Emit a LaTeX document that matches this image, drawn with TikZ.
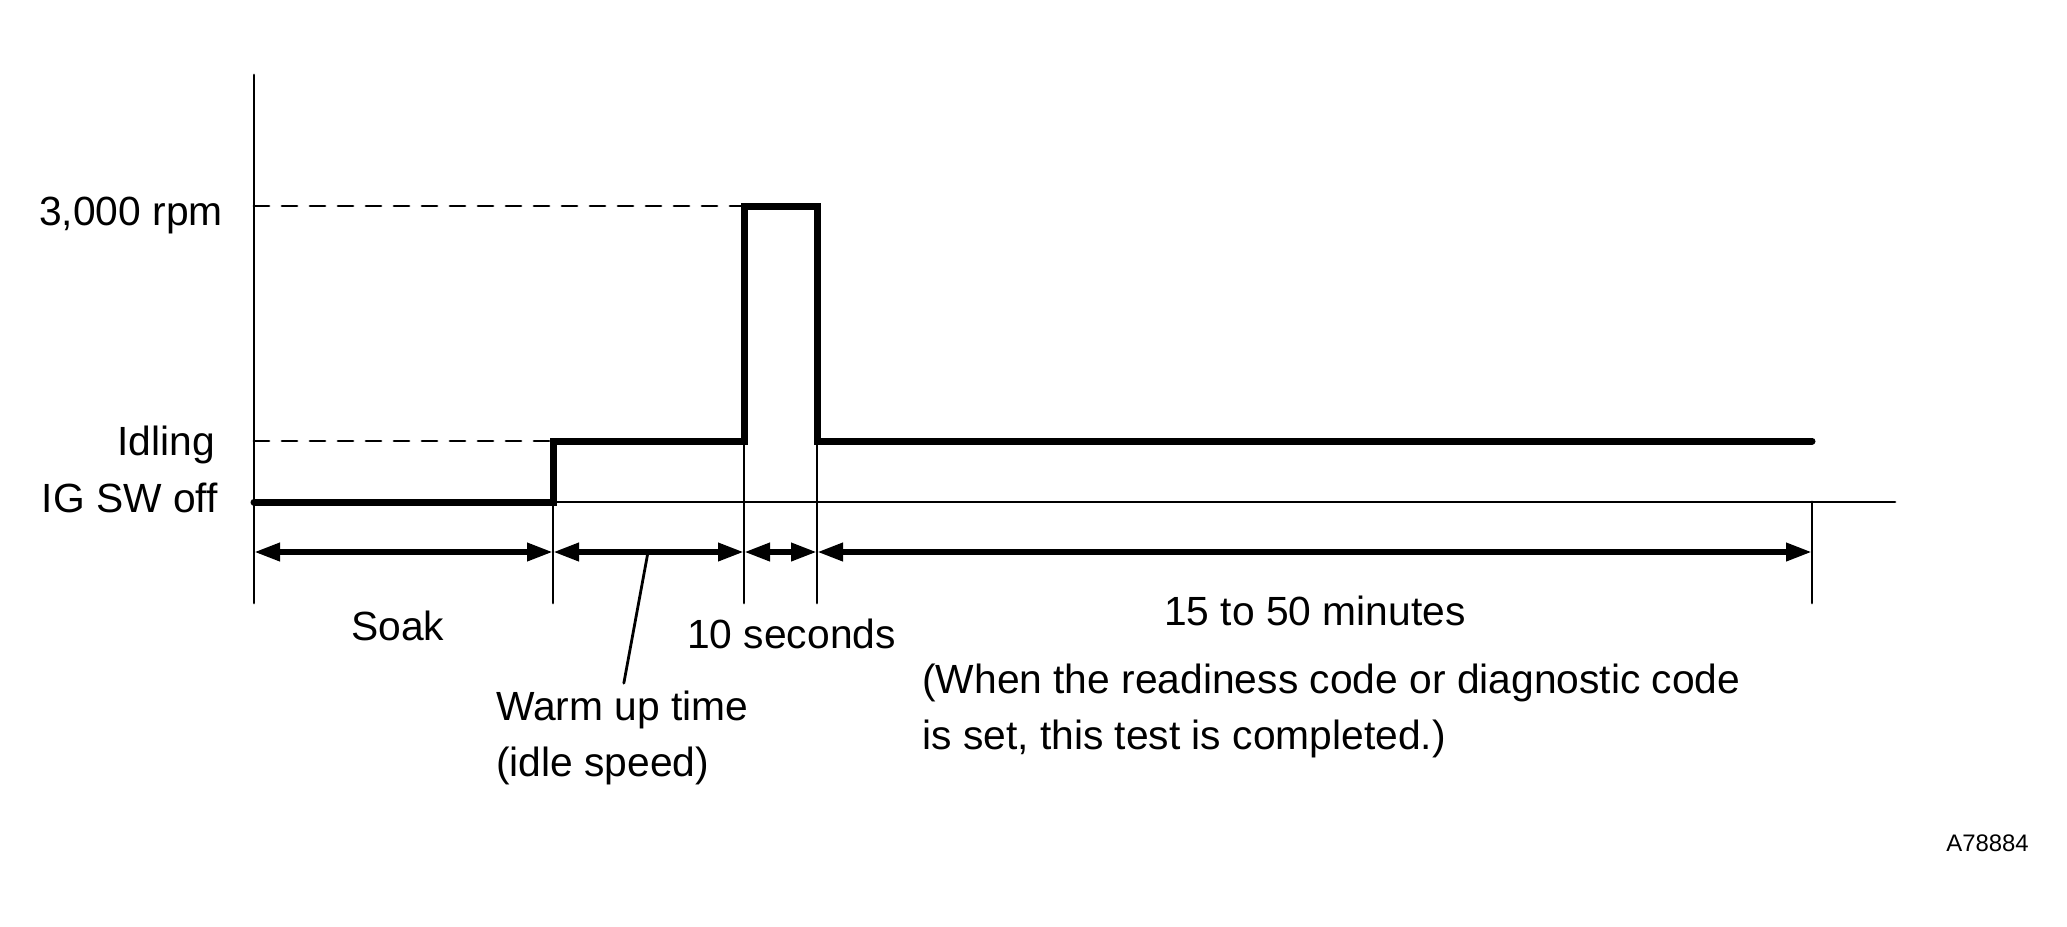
\documentclass[tikz,border=0pt]{standalone}
\usepackage{fontspec}
\setmainfont{Liberation Sans}
\usetikzlibrary{arrows.meta}

\tikzset{
	guide/.style={line width=0.7mm},
	profile/.style={line width=1.75mm, line join=miter},
	dimline/.style={<->, line width=1.5mm},
	level/.style={guide, dash pattern=on 3.75mm off 3.25mm},
	lbl/.style={inner sep=0pt}
}

\begin{document}
\begin{tikzpicture}[x=0.25mm, y=-0.25mm, >={Triangle[length=6.5mm, width=4.3mm]},
	line cap=round, line join=round, font=\fontsize{29}{39.4}\selectfont]
\useasboundingbox (0,0) rectangle (2067,926);
%========================
% axes and levels
%========================
\coordinate (top) at (254,75);
\coordinate (O) at (254,502);
\coordinate (xend) at (1895,502);
\coordinate (ybot) at (254,603);

\node[lbl, anchor=base east] (rpm) at (223,225) {3,000 rpm};
\node[lbl, anchor=base east] (idle) at (215,455) {Idling};
\node[lbl, anchor=base east] (off) at (218,512) {IG SW off};

\draw[guide] (top) -- (ybot);
\draw[guide] (O) -- (xend);

% dashed levels
\draw[level] (254,206) -- (744,206);
\draw[level] (254,441) -- (553,441);

% engine speed profile
\draw[profile] (O) -- (553,502) -- (553,441) -- (744,441) -- (744,206)
	-- (817,206) -- (817,441) -- (1812,441);

%========================
% time spans
%========================
\coordinate (t1) at (553,603);
\coordinate (t2) at (744,603);
\coordinate (t3) at (817,603);
\coordinate (t4) at (1812,603);
\draw[guide] (553,502) -- (t1);
\draw[guide] (744,441) -- (t2);
\draw[guide] (817,441) -- (t3);
\draw[guide] (1812,502) -- (t4);

\coordinate (d0) at (254,552);
\coordinate (d1) at (553,552);
\coordinate (d2) at (744,552);
\coordinate (d3) at (817,552);
\coordinate (d4) at (1812,552);
\draw[dimline] (d0) -- (d1);
\draw[dimline] (d1) -- (d2);
\draw[dimline] (d2) -- (d3);
\draw[dimline] (d3) -- (d4);

\node[lbl, anchor=base west] (soak) at (351,640) {Soak};
\node[lbl, anchor=base west] (tensec) at (687,648) {10 seconds};
\node[lbl, anchor=north west, align=left] (warm) at (496,691) {Warm up time\\(idle speed)};
\node[lbl, anchor=base west] (mins) at (1164,625) {15 to 50 minutes};
\node[lbl, anchor=north west, align=left] (note) at (922,664)
	{(When the readiness code or diagnostic code\\is set, this test is completed.)};

% leader to warm up label
\coordinate (lead) at (648,552);
\draw[guide, shorten >=2mm] (lead) -- (warm.north);

\node[lbl, anchor=base east, font=\fontsize{17}{20}\selectfont] (code) at (2029,851) {A78884};
\end{tikzpicture}
\end{document}
